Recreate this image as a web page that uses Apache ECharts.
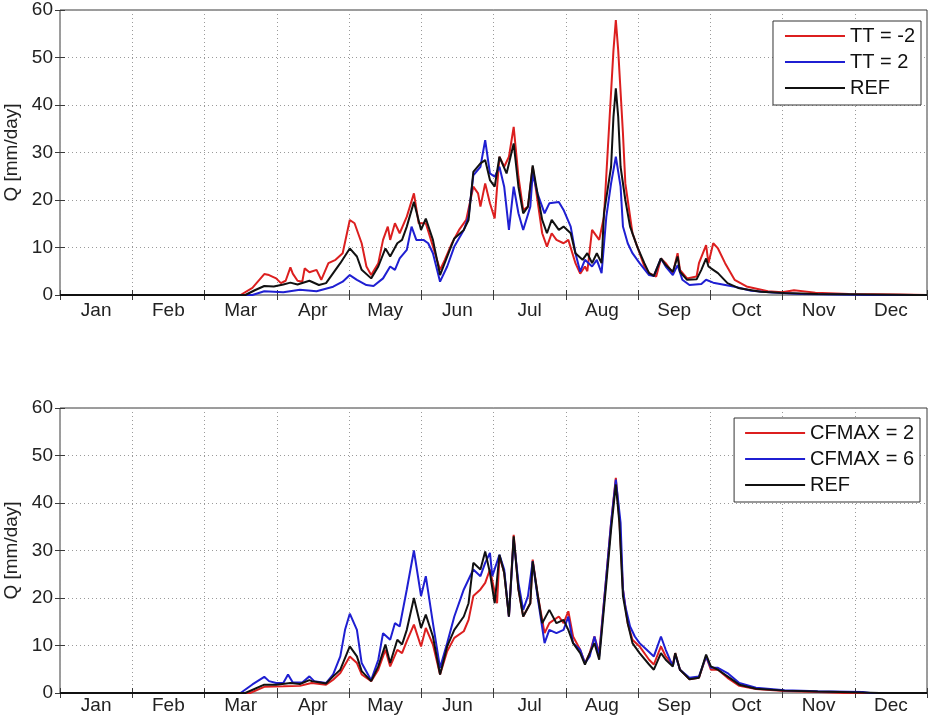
<!DOCTYPE html>
<html><head><meta charset="utf-8">
<script src="https://cdn.jsdelivr.net/npm/echarts@6/dist/echarts.min.js"></script>
<style>html,body{margin:0;padding:0;background:#fff}#c{width:929px;height:717px}</style>
</head><body><div id="c"></div>
<script>
const months = ['Jan','Feb','Mar','Apr','May','Jun','Jul','Aug','Sep','Oct','Nov','Dec'];
const yTicks = [0,10,20,30,40,50,60];
const topNames = ['TT = -2','TT = 2','REF'];
const botNames = ['CFMAX = 2','CFMAX = 6','REF'];

// Top panel: [day of year, Q mm/day]
const ttMinus2 = [[0,0],[76,0],[81,1.5],[86,4.4],[88,4.2],[91,3.5],[93,2.5],[95,3],[97,5.8],[98,4.5],[100,3],[102,2.8],[103,5.6],[105,4.8],[108,5.3],[110,3.2],[113,6.7],[116,7.4],[119,8.8],[122,15.8],[124,15.1],[127,10.9],[129,6],[131,4.2],[134,6.7],[136,11.6],[138,14.4],[139,11.6],[141,15.1],[143,13],[146,16.5],[149,21.4],[151,15.1],[154,15.1],[157,10.2],[160,5.3],[162,7.4],[165,10.9],[168,13.7],[171,15.8],[174,22.8],[176,21.4],[177,18.6],[179,23.5],[181,19.3],[183,16.1],[185,29.1],[187,27],[189,29.1],[191,35.4],[193,24.9],[195,17.9],[197,18.6],[199,27],[201,20],[203,13],[205,10.2],[207,13],[209,11.6],[212,10.9],[214,11.6],[217,6.7],[219,4.5],[221,6],[222,5],[224,13.7],[227,11.6],[229,16.5],[231,34],[233,51.5],[234,57.9],[235,51.5],[237,34],[238,23.5],[239,20],[241,13],[244,8.8],[246,6],[248,4.6],[251,3.9],[253,7.7],[255,6.7],[257,5.3],[258,4.6],[260,8.8],[261,5.3],[264,3.5],[268,3.9],[269,6.7],[272,10.5],[273,6.7],[275,10.9],[277,9.8],[280,6.7],[284,3.2],[289,1.8],[298,0.8],[304,0.6],[309,1.0],[318,0.5],[332,0.2],[353,0.1],[365,0]];
const ttPlus2 = [[0,0],[81,0],[86,0.8],[94,0.6],[101,1.1],[108,0.8],[115,1.75],[119,2.8],[122,4.2],[125,3.2],[129,2.1],[132,1.9],[136,3.5],[139,6],[141,5.3],[143,7.7],[146,9.5],[148,14.4],[150,11.6],[153,11.6],[155,10.9],[157,8.8],[160,2.8],[163,6],[166,10.2],[170,13.7],[172,16.5],[174,25.2],[177,27],[179,32.6],[181,25.6],[183,24.9],[185,27],[187,22.8],[189,13.7],[191,22.8],[193,17.2],[195,13.7],[198,18.6],[199,25.6],[201,21.4],[204,17.2],[206,19.3],[210,19.6],[212,17.9],[215,14.4],[217,8.8],[219,4.9],[221,7.4],[224,6],[226,7.4],[228,4.6],[230,16.5],[232,23.5],[234,29.1],[236,22.8],[237,14.4],[239,10.9],[241,8.8],[244,6.7],[248,4.2],[250,4],[253,7.7],[255,6],[258,4.2],[260,6.3],[262,3.2],[265,2.1],[270,2.3],[272,3.2],[275,2.6],[284,1.75],[291,0.9],[300,0.5],[312,0.2],[326,0.1],[340,0],[365,0]];
const refTop = [[0,0],[78,0],[82,1],[86,1.9],[90,1.8],[94,2.2],[97,2.6],[100,2.2],[105,3],[109,2.1],[112,2.5],[115,4.6],[118,6.7],[122,9.8],[125,8.1],[127,5.3],[131,3.5],[134,6],[137,9.8],[139,8.1],[142,10.9],[144,11.6],[146,14.4],[149,19.6],[152,13.7],[154,16.1],[157,11.6],[160,4.2],[163,8.1],[166,11.9],[170,13.7],[172,15.8],[174,25.9],[177,27.7],[179,28.4],[181,24.2],[183,22.8],[185,29.1],[188,25.6],[191,31.9],[193,22.8],[195,17.2],[197,18.6],[199,27.3],[201,21.4],[203,15.8],[205,13],[207,15.8],[210,13.7],[212,14.4],[215,13],[217,8.8],[220,7.4],[222,8.8],[224,6.7],[226,8.8],[228,6.7],[229,17.2],[232,27],[233,37.5],[234,43.5],[235,37.5],[236,27],[238,20],[240,14.4],[243,10.2],[246,6.7],[248,4.6],[250,4],[253,7.7],[255,6.3],[258,4.9],[260,8.1],[261,4.9],[264,3.2],[268,3.3],[270,5.3],[272,7.7],[273,6],[275,5.3],[277,4.6],[281,2.5],[286,1.4],[295,0.7],[305,0.4],[319,0.2],[340,0.1],[360,0],[365,0]];

// Bottom panel
const cfmax2 = [[0,0],[80,0],[86,1.3],[94,1.4],[101,1.5],[105,2],[106,2.1],[112,1.75],[115,2.8],[118,4.2],[122,7.7],[125,6.3],[127,3.9],[131,2.5],[134,4.9],[137,9.1],[139,5.6],[142,9.1],[144,8.4],[146,10.9],[149,14.4],[152,9.8],[154,13.7],[157,10.2],[160,3.9],[163,8.8],[166,11.6],[170,13],[172,15.4],[174,20.4],[177,21.8],[179,23.2],[181,26],[184,18.9],[185,28.8],[187,25.3],[189,16.1],[191,33.3],[193,21.8],[195,16.1],[198,18.9],[199,28.1],[201,21],[204,12.6],[206,14.7],[210,16.1],[212,14.7],[214,17.2],[216,11.9],[219,9.1],[221,6.3],[223,8.4],[225,11.9],[227,8.4],[230,24.6],[232,35.8],[234,45.3],[235.5,36.5],[237,21.8],[239,14.7],[241,11.2],[244,9.8],[248,7],[250,6],[253,9.8],[255,7.7],[258,6],[259,8.4],[261,4.9],[265,2.9],[269,3.2],[272,7.7],[274,4.9],[277,4.9],[281,3.2],[286,1.5],[293,0.85],[305,0.4],[319,0.2],[330,0],[365,0]];
const cfmax6 = [[0,0],[76,0],[81,1.8],[86,3.4],[88,2.5],[91,2.1],[94,2.1],[96,3.9],[98,2.2],[102,2.2],[105,3.5],[107,2.5],[112,2.1],[115,3.9],[118,7.7],[120,13.3],[122,16.7],[125,13.3],[127,6.3],[131,2.7],[134,7],[136,12.6],[139,11.2],[141,14.7],[143,14],[146,21.8],[149,30],[152,20.4],[154,24.6],[157,14.7],[160,5.3],[163,10.5],[166,16.1],[170,21.8],[172,23.9],[174,26],[177,24.6],[179,27.4],[181,29.5],[182,24.6],[185,29.1],[187,26],[189,16.1],[191,32.3],[193,23.2],[195,17.5],[197,20.4],[199,27.7],[201,20.4],[204,10.5],[206,13.3],[209,12.6],[212,13.3],[214,16.1],[216,10.5],[219,9.1],[221,6.3],[223,7.7],[225,11.9],[227,7.7],[230,24.6],[232,35.8],[234,44.9],[236,35.8],[237,21.8],[238,18.2],[240,14],[242,11.9],[244,10.5],[247,9.1],[250,7.7],[253,11.9],[255,9.1],[258,5.6],[259,8.1],[261,4.9],[265,3.2],[269,3.5],[272,7.7],[274,5.3],[277,5.3],[281,4.2],[286,2.1],[293,1.1],[305,0.6],[319,0.35],[338,0.2],[341,0],[365,0]];
const refBot = [[0,0],[78,0],[86,1.75],[91,1.75],[97,2.1],[101,1.9],[105,2.7],[106,2.5],[112,2],[115,3.5],[118,4.9],[122,9.8],[125,7.7],[127,4.6],[131,2.5],[134,5.6],[137,10.2],[139,6.3],[142,11.2],[144,10.2],[146,13.3],[149,20],[152,13.7],[154,16.5],[157,11.9],[160,3.9],[163,9.8],[166,13.3],[170,16.1],[172,18.9],[174,27.4],[177,26],[179,29.8],[181,25.3],[183,18.9],[185,29.1],[187,25.3],[189,16.1],[191,33],[193,21.8],[195,16.1],[198,18.9],[199,27.7],[201,21],[203,14.7],[206,17.5],[209,14.7],[212,15.4],[214,13.3],[216,10.5],[219,8.4],[221,6],[223,8.4],[225,10.5],[227,7],[230,23.2],[232,34.4],[234,43.9],[235.5,35.8],[237,20.4],[239,14.7],[241,10.5],[244,8.4],[248,6],[250,4.9],[253,8.4],[255,7],[258,5.6],[259,8.4],[261,4.9],[265,2.9],[269,3.2],[272,8.1],[274,5.6],[277,4.9],[281,3.5],[286,1.75],[293,0.9],[305,0.5],[319,0.3],[333,0.15],[345,0],[365,0]];

const RED = '#dc1f1f', BLUE = '#1f1fd2', BLACK = '#111111';
const FONT = 'Liberation Sans, Arial, Helvetica, sans-serif';
const grids = [{top:10, height:285, lm:6}, {top:408, height:285, lm:3}];

const chart = echarts.init(document.getElementById('c'), null, {renderer:'canvas'});
const xAxes = [], yAxes = [], series = [], legends = [];
const gridOpts = grids.map(g => ({left:60, right:2, top:g.top, height:g.height, show:true,
  containLabel:false, outerBoundsMode:'none',
  borderColor:'#3a3a3a', borderWidth:1, backgroundColor:'#fff'}));

grids.forEach((g, gi) => {
  const xb = xAxes.length;
  xAxes.push({type:'value', gridIndex:gi, position:'bottom', min:0, max:365, interval:365/12,
    axisLabel:{show:false}, axisLine:{show:false},
    axisTick:{show:true, inside:true, length:5, lineStyle:{color:'#3a3a3a'}},
    splitLine:{show:true, lineStyle:{color:'#9a9a9a', type:[1,3], width:1}}});
  xAxes.push({type:'value', gridIndex:gi, position:'top', min:0, max:365, interval:365/12,
    axisLabel:{show:false}, axisLine:{show:false},
    axisTick:{show:true, inside:true, length:5, lineStyle:{color:'#3a3a3a'}},
    splitLine:{show:false}});
  xAxes.push({type:'category', gridIndex:gi, position:'bottom', data:months, boundaryGap:true,
    axisLine:{show:false}, axisTick:{show:false}, splitLine:{show:false},
    axisLabel:{fontSize:19, color:'#222', fontFamily:FONT, margin:g.lm}});
  const yb = yAxes.length;
  yAxes.push({type:'value', gridIndex:gi, position:'left', min:yTicks[0], max:yTicks[yTicks.length-1], interval:10,
    axisLine:{show:false},
    axisTick:{show:true, inside:true, length:5, lineStyle:{color:'#3a3a3a'}},
    axisLabel:{fontSize:19, color:'#222', fontFamily:FONT, margin:7},
    splitLine:{show:true, lineStyle:{color:'#9a9a9a', type:[1,3], width:1}},
    name:'Q [mm/day]', nameLocation:'middle', nameGap:38,
    nameTextStyle:{fontSize:19, color:'#222', fontFamily:FONT}});
  yAxes.push({type:'value', gridIndex:gi, position:'right', min:0, max:60, interval:10,
    axisLine:{show:false}, axisLabel:{show:false},
    axisTick:{show:true, inside:true, length:5, lineStyle:{color:'#3a3a3a'}},
    splitLine:{show:false}});
  const names = gi === 0 ? topNames : botNames;
  const datas = gi === 0 ? [ttMinus2, ttPlus2, refTop] : [cfmax2, cfmax6, refBot];
  const cols = [RED, BLUE, BLACK];
  names.forEach((n, i) => {
    series.push({type:'line', name:n, xAxisIndex:xb, yAxisIndex:yb, data:datas[i],
      symbol:'none', animation:false, z:3+i,
      lineStyle:{color:cols[i], width:2}, itemStyle:{color:cols[i]}});
  });
  legends.push({orient:'vertical', right: gi === 0 ? 8 : 9, top: gi === 0 ? 21 : 418,
    data:names, icon:'rect', itemWidth:60, itemHeight:2, itemGap:6,
    padding: gi === 0 ? [5,6,7,12] : [5,6,7,11],
    borderColor:'#333', borderWidth:1, borderRadius:0, backgroundColor:'#fff',
    textStyle:{fontSize:20, color:'#111', fontFamily:FONT}, selectedMode:false});
});

chart.setOption({animation:false, grid:gridOpts, xAxis:xAxes, yAxis:yAxes, series:series, legend:legends});
</script></body></html>
